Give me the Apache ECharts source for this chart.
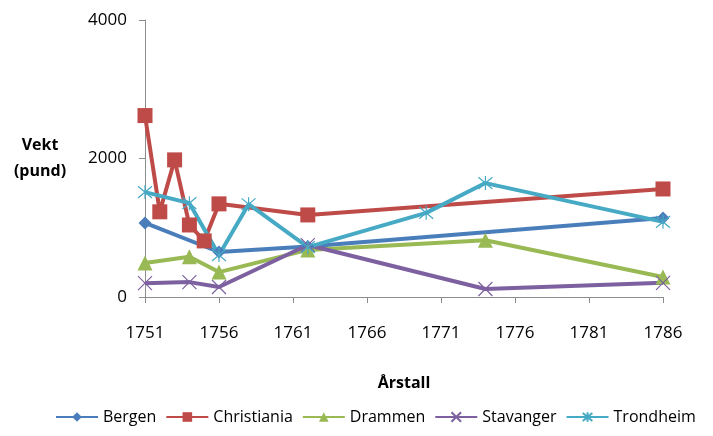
<!DOCTYPE html>
<html lang="no">
<head>
    <meta charset="UTF-8">
    <title>Vekt per år</title>
    <script src="https://cdn.jsdelivr.net/npm/echarts@6/dist/echarts.min.js"></script>
    <style>
        html, body { margin: 0; padding: 0; background: #fff; }
    </style>
</head>
<body>
<div id="chart" style="width:713px;height:436px;"></div>
<script>
    // data: [year, weight]
    var bergen = [[1751, 1070], [1756, 650], [1762, 730], [1786, 1140]];
    var christiania = [[1751, 2620], [1752, 1230], [1753, 1980], [1754, 1040], [1755, 810], [1756, 1345], [1762, 1185], [1786, 1560]];
    var drammen = [[1751, 490], [1754, 580], [1756, 360], [1762, 680], [1774, 820], [1786, 290]];
    var stavanger = [[1751, 200], [1754, 215], [1756, 145], [1762, 750], [1774, 115], [1786, 205]];
    var trondheim = [[1751, 1515], [1754, 1355], [1756, 605], [1758, 1340], [1762, 720], [1770, 1215], [1774, 1645], [1786, 1085]];
    var firstYear = 1751;

    var font = '"Open Sans", sans-serif';
    // x axis runs in years after 1751 so the ticks land on 1751, 1756, ...
    var shift = function (arr) {
        return arr.map(function (p) { return [p[0] - firstYear, p[1]]; });
    };
    var xPath = 'path://M0,0L10,10M10,0L0,10';
    var starPath = 'path://M0,0L10,10M10,0L0,10M5,-1L5,11';

    function line(name, data, color, symbol, size, stroke) {
        return {
            name: name,
            type: 'line',
            data: shift(data),
            symbol: symbol,
            symbolSize: size,
            lineStyle: { color: color, width: 4 },
            itemStyle: stroke
                ? { color: 'rgba(0,0,0,0)', borderColor: color, borderWidth: 1.2 }
                : { color: color, borderWidth: 0 },
            emphasis: { disabled: true }
        };
    }

    var chart = echarts.init(document.getElementById('chart'));
    chart.setOption({
        animation: false,
        textStyle: { fontFamily: font },
        grid: { left: 145, right: 50, top: 20, bottom: 139, outerBoundsMode: 'none', containLabel: false },
        legend: {
            bottom: 6,
            left: 50,
            itemWidth: 42,
            itemHeight: 12,
            itemGap: 9,
            textStyle: { fontSize: 16, color: '#000', fontFamily: font },
            data: ['Bergen', 'Christiania', 'Drammen', 'Stavanger', 'Trondheim']
        },
        xAxis: {
            type: 'value',
            min: 0,
            max: 35,
            interval: 5,
            name: 'Årstall',
            nameLocation: 'middle',
            nameGap: 78,
            nameTextStyle: { fontWeight: 'bold', fontSize: 16, color: '#000' },
            axisLine: { show: true, lineStyle: { color: '#8c8c8c' } },
            axisTick: { show: true, length: 6, lineStyle: { color: '#8c8c8c' } },
            axisLabel: {
                fontSize: 17, color: '#000', margin: 28,
                formatter: function (v) { return String(v + firstYear); }
            },
            splitLine: { show: false }
        },
        yAxis: {
            type: 'value',
            min: 0,
            max: 4000,
            interval: 2000,
            name: 'Vekt\n(pund)',
            nameLocation: 'middle',
            nameRotate: 0,
            nameGap: 105,
            nameTextStyle: { fontWeight: 'bold', fontSize: 16, color: '#000', lineHeight: 26, align: 'center' },
            axisLine: { show: true, lineStyle: { color: '#8c8c8c' } },
            axisTick: { show: true, length: 6, lineStyle: { color: '#8c8c8c' } },
            axisLabel: {
                fontSize: 17, color: '#000', margin: 18,
                formatter: function (v) { return String(v); }
            },
            splitLine: { show: false }
        },
        series: [
            line('Bergen', bergen, '#4a7ebb', 'diamond', 13, false),
            line('Christiania', christiania, '#be4b48', 'rect', 15, false),
            line('Drammen', drammen, '#98b954', 'triangle', 15, false),
            line('Stavanger', stavanger, '#7d60a0', xPath, 14, true),
            line('Trondheim', trondheim, '#46aac5', starPath, 14, true)
        ]
    });
</script>
</body>
</html>
